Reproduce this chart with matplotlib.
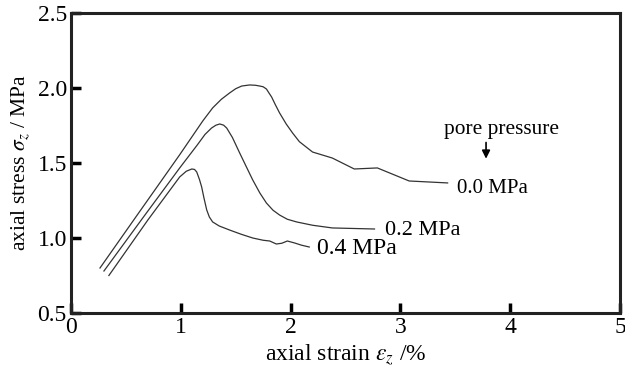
import matplotlib
matplotlib.use("Agg")
import matplotlib.pyplot as plt

plt.rcParams['font.family'] = ['Liberation Serif', 'DejaVu Serif']
plt.rcParams['mathtext.fontset'] = 'stix'

# stress-strain curves for three pore pressures
strain_00 = [0.264, 0.60, 0.99, 1.20, 1.29, 1.37, 1.445, 1.50, 1.555, 1.627, 1.68, 1.718,
             1.75, 1.78, 1.80, 1.827, 1.86, 1.90, 1.96, 2.018, 2.08, 2.2, 2.38, 2.58, 2.79,
             3.08, 3.43]
stress_00 = [0.80, 1.15, 1.555, 1.78, 1.867, 1.925, 1.967, 1.995, 2.013, 2.02, 2.018, 2.013,
             2.008, 1.993, 1.97, 1.94, 1.89, 1.833, 1.76, 1.70, 1.642, 1.573, 1.533, 1.46,
             1.467, 1.38, 1.367]

strain_02 = [0.30, 0.65, 0.99, 1.15, 1.22, 1.28, 1.32, 1.355, 1.39, 1.418, 1.47, 1.536,
             1.60, 1.655, 1.72, 1.78, 1.84, 1.90, 1.97, 2.055, 2.2, 2.38, 2.764]
stress_02 = [0.78, 1.13, 1.467, 1.62, 1.69, 1.733, 1.752, 1.76, 1.752, 1.733, 1.67, 1.567,
             1.47, 1.387, 1.30, 1.233, 1.185, 1.153, 1.125, 1.107, 1.085, 1.067, 1.06]

strain_04 = [0.345, 0.70, 0.99, 1.05, 1.1, 1.125, 1.145, 1.17, 1.19, 1.21, 1.236, 1.26,
             1.29, 1.35, 1.445, 1.55, 1.655, 1.75, 1.81, 1.87, 1.92, 1.97, 2.036, 2.10, 2.17]
stress_04 = [0.75, 1.12, 1.407, 1.445, 1.46, 1.457, 1.44, 1.39, 1.34, 1.27, 1.187, 1.14,
             1.107, 1.08, 1.053, 1.025, 1.0, 0.985, 0.98, 0.96, 0.965, 0.98, 0.967, 0.952, 0.94]

labels = ['0.0 MPa', '0.2 MPa', '0.4 MPa']
label_pos = [(3.52, 1.327), (2.86, 1.047), (2.24, 0.933)]
label_size = [15, 16, 17]

fig = plt.figure(figsize=(6.25, 3.7), dpi=100)
ax = fig.add_axes([0.1136, 0.154, 0.8784, 0.811])

for xs, ys in [(strain_00, stress_00), (strain_02, stress_02), (strain_04, stress_04)]:
    ax.plot(xs, ys, color='#333333', lw=0.9)

for lab, (lx, ly), fs in zip(labels, label_pos, label_size):
    ax.text(lx, ly, lab, fontsize=fs, va='center', ha='left')

ax.text(3.92, 1.725, 'pore pressure', fontsize=15.4, ha='center', va='center')
ax.annotate('', xy=(3.78, 1.51), xytext=(3.78, 1.655),
            arrowprops=dict(arrowstyle='-|>', color='black', lw=1.2, mutation_scale=12))

ax.set_xlim(0, 5)
ax.set_ylim(0.5, 2.5)
ax.set_xticks([0, 1, 2, 3, 4, 5])
ax.set_yticks([0.5, 1.0, 1.5, 2.0, 2.5])
ax.set_yticklabels(['0.5', '1.0', '1.5', '2.0', '2.5'])
ax.tick_params(direction='in', length=7, width=2.5, labelsize=17, pad=3)

for s in ax.spines.values():
    s.set_linewidth(2.2)
    s.set_color('#222222')

ax.set_xlabel(r'axial strain $\varepsilon_z$ /%', fontsize=17, labelpad=3)
ax.set_ylabel(r'axial stress $\sigma_z$ / MPa', fontsize=15.5, labelpad=4)

fig.savefig('out.png', dpi=100)
